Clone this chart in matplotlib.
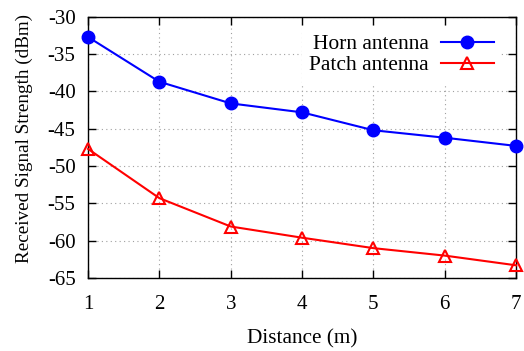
import matplotlib.pyplot as plt

plt.rcParams.update({
    "font.family": ["Liberation Serif", "DejaVu Serif"],
    "font.size": 15,
    "axes.unicode_minus": False,
})

distance = [1, 2, 3, 4, 5, 6, 7]
horn = [-32.7, -38.7, -41.6, -42.8, -45.2, -46.2, -47.3]
patch = [-47.7, -54.3, -58.1, -59.6, -61.0, -62.0, -63.3]
x_ticks = [1, 2, 3, 4, 5, 6, 7]
y_ticks = [-30, -35, -40, -45, -50, -55, -60, -65]

fig = plt.figure(figsize=(5.24, 3.51), dpi=100)
ax = fig.add_axes([0.168, 0.208, 0.817, 0.744])

ax.plot(distance, horn, "-o", color="blue", linewidth=1.5, markersize=9,
        label="Horn antenna", clip_on=False, zorder=3)
ax.plot(distance, patch, "-^", color="red", linewidth=1.5, markersize=8,
        markerfacecolor="none", markeredgewidth=1.5,
        label="Patch antenna", clip_on=False, zorder=3)

ax.set_xlim(1, 7)
ax.set_ylim(-65, -30)
ax.set_xticks(x_ticks)
ax.set_yticks(y_ticks)
ax.tick_params(axis="y", direction="in", length=6, width=1, right=True, pad=9)
ax.tick_params(axis="x", direction="in", length=6, width=1, top=True, pad=12)
ax.grid(True, linestyle=(0, (1, 3)), color="#a0a0a0", linewidth=0.8)
for s in ax.spines.values():
    s.set_linewidth(1)

ax.set_xlabel("Distance (m)", fontsize=15.3, labelpad=11)
ax.set_ylabel("Received Signal Strength (dBm)", fontsize=13.8)
ax.yaxis.set_label_coords(-0.1285, 0.534)

leg = ax.legend(loc="upper right", bbox_to_anchor=(1.0, 1.021),
                markerfirst=False, frameon=True,
                fontsize=15.5, handlelength=2.45, borderpad=0.35,
                labelspacing=0.05, handletextpad=0.55, borderaxespad=0.7,
                fancybox=False)
leg.get_frame().set_facecolor("white")
leg.get_frame().set_edgecolor("none")
leg.get_frame().set_alpha(1)
leg.set_zorder(5)

fig.savefig("out.png", dpi=100)
